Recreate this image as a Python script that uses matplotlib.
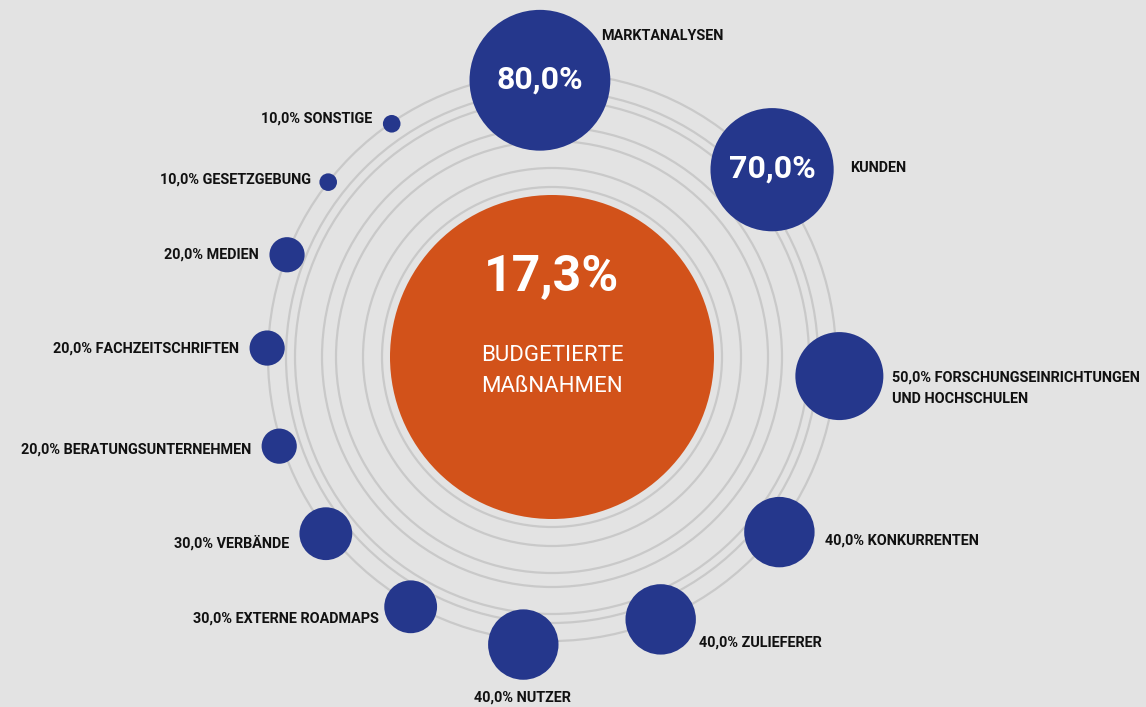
import numpy as np
import matplotlib
matplotlib.use("Agg")
import matplotlib.pyplot as plt
from matplotlib.patches import Circle

# data
categories = [
    "MARKTANALYSEN",
    "KUNDEN",
    "FORSCHUNGSEINRICHTUNGEN\nUND HOCHSCHULEN",
    "KONKURRENTEN",
    "ZULIEFERER",
    "NUTZER",
    "EXTERNE ROADMAPS",
    "VERBÄNDE",
    "BERATUNGSUNTERNEHMEN",
    "FACHZEITSCHRIFTEN",
    "MEDIEN",
    "GESETZGEBUNG",
    "SONSTIGE",
]
values = [80, 70, 50, 40, 40, 40, 30, 30, 20, 20, 20, 10, 10]
total_value = 17.3
total_label = "BUDGETIERTE\nMAßNAHMEN"

# layout (pixels, centre of the rings at origin, y up)
angles_deg = [92.5, 40.4, -3.8, -37.6, -67.5, -95.7, -119.5, -142.0, -161.9, 178.2, 158.9, 142.0, 124.5]
orbit = [277, 289, 288, 287, 284, 289, 287, 287, 287, 285, 284, 284, 283]
label_offsets = [(61, 44), (78, 2), (53, -12), (46, -8), (38, -23), (-1, -53),
                 (-32, -12), (-37, -9), (-28, -3), (-28, -1), (-28, 0), (-17, 3), (-19, 5)]
label_ha = ["left", "left", "left", "left", "left", "center",
            "right", "right", "right", "right", "right", "right", "right"]
ring_radii = [170, 189, 216, 230, 257, 266, 284]
bubble_scale = 0.88  # px of radius per percent

BG = "#e3e3e3"
NAVY = "#25378c"
ORANGE = "#d2521a"
RING = "#c9c9c9"
FONT = ["Roboto", "DejaVu Sans"]


def fmt(v):
    return f"{v:.1f}".replace(".", ",") + "%"


fig = plt.figure(figsize=(11.46, 7.07), dpi=100, facecolor=BG)
ax = fig.add_axes([0, 0, 1, 1])
ax.set_facecolor(BG)
ax.set_xlim(-552, 594)
ax.set_ylim(-350, 357)
ax.set_aspect("equal")
ax.axis("off")

for r in ring_radii:
    ax.add_patch(Circle((0, 0), r, fill=False, edgecolor=RING, linewidth=1.6, zorder=1))

ax.add_patch(Circle((0, 0), 162, facecolor=ORANGE, edgecolor="none", zorder=2))
ax.text(0, 79, fmt(total_value), ha="center", va="center", color="white",
        fontsize=36, fontweight="bold", family=FONT, zorder=3)
ax.text(0, -14, total_label, ha="center", va="center", color="white",
        fontsize=16, family=FONT, linespacing=1.65, zorder=3)

for name, v, a, d, (dx, dy), ha in zip(categories, values, angles_deg, orbit,
                                       label_offsets, label_ha):
    t = np.deg2rad(a)
    x, y = d * np.cos(t), d * np.sin(t)
    r = v * bubble_scale
    ax.add_patch(Circle((x, y), r, facecolor=NAVY, edgecolor="none", zorder=4))
    if v >= 60:
        ax.text(x, y + 1, fmt(v), ha="center", va="center", color="white",
                fontsize=23, fontweight="bold", family=FONT, zorder=5)
        label = name
    else:
        label = f"{fmt(v)} {name}"
    ax.text(x + dx, y + dy, label, ha=ha, va="center", color="#111111",
            fontsize=10.4, fontweight="bold", family=FONT, linespacing=1.7,
            multialignment="left", zorder=5)

fig.savefig("out.png", dpi=100, facecolor=BG)
